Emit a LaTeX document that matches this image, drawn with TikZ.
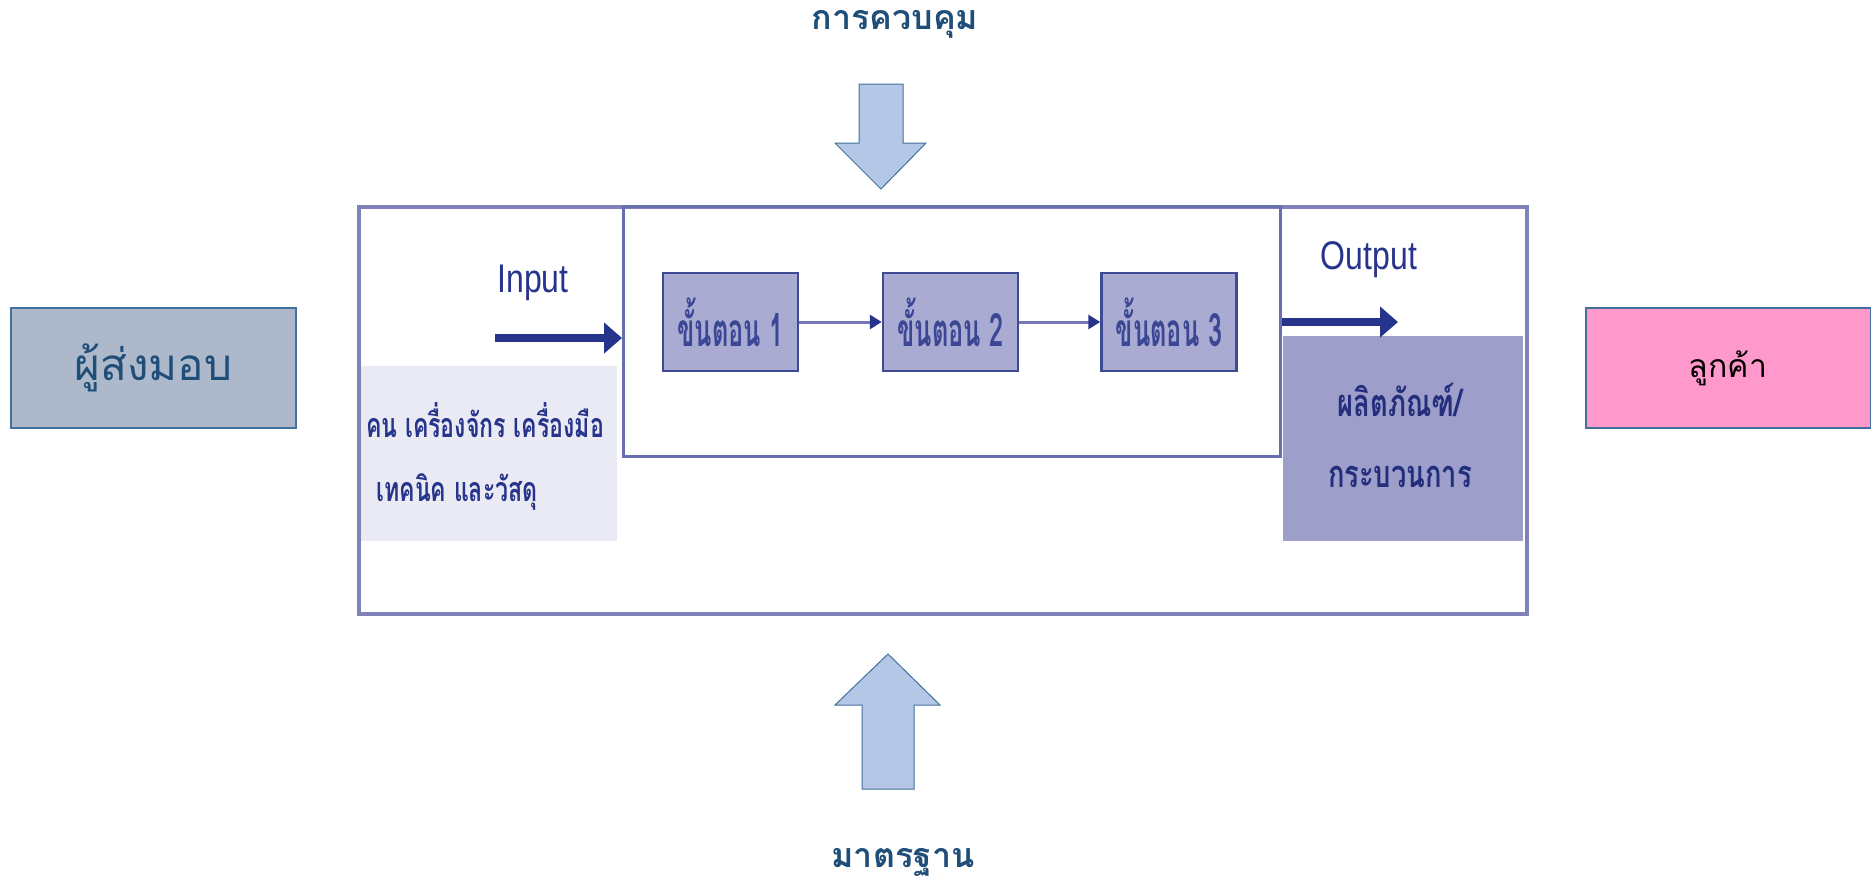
\documentclass[tikz,border=0pt]{standalone}
\usepackage{fontspec}
\setmainfont{Liberation Sans}
\newfontfamily\thai[Script=Thai]{Loma}
\usetikzlibrary{arrows.meta}

\definecolor{labelblue}{HTML}{1F4E79}
\definecolor{blockfill}{HTML}{B4C7E7}
\definecolor{blockdraw}{HTML}{41719C}
\definecolor{supplierfill}{HTML}{ADB9CA}
\definecolor{customerfill}{HTML}{FF99CC}
\definecolor{navy}{HTML}{27348B}
\definecolor{stepfill}{HTML}{A9ABD3}
\definecolor{stepdraw}{HTML}{3F4A94}
\definecolor{steptext}{HTML}{3B4794}
\definecolor{lightfill}{HTML}{EAEAF4}
\definecolor{darkfill}{HTML}{9D9ECA}
\definecolor{framecol}{HTML}{7F82B8}
\definecolor{linkcol}{HTML}{7478B5}

\tikzset{
  sidebox/.style={draw=blockdraw, line width=2pt, minimum width=285pt, minimum height=120pt, inner sep=0pt},
  stepbox/.style={draw=stepdraw, fill=stepfill, line width=2.5pt, minimum width=135pt, minimum height=98pt, inner sep=0pt},
  steplabel/.style={font=\thai\bfseries\fontsize{46}{50}\selectfont, text=steptext, xscale=0.55},
  blockarrow/.style={fill=blockfill, draw=blockdraw, line width=1pt, line join=miter},
  title/.style={font=\thai\bfseries\fontsize{34}{40}\selectfont, text=labelblue},
  inlabel/.style={font=\fontsize{40}{44}\selectfont, text=navy, xscale=0.8},
  restext/.style={font=\thai\bfseries\fontsize{34}{38}\selectfont, text=navy, xscale=0.68},
  prodtext/.style={font=\thai\bfseries\fontsize{38}{42}\selectfont, text=navy!90!black, xscale=0.72},
  link/.style={draw=linkcol, line width=3pt, -{Triangle[length=12pt,width=14pt,color=navy,fill=navy]}},
  flow/.style={draw=navy, line width=8pt, -{Triangle[length=18pt,width=30pt]}},
}

\begin{document}
\begin{tikzpicture}[x=1pt,y=-1pt]
\useasboundingbox (0,0) rectangle (1871,887);
\fill[white] (0,0) rectangle (1871,887);

% supplier and customer
\node[sidebox, fill=supplierfill, font=\thai\fontsize{44}{50}\selectfont, text=labelblue] (supplier) at (153.5,368) {ผู้ส่งมอบ};
\node[sidebox, fill=customerfill, font=\thai\fontsize{32}{38}\selectfont, text=black] (customer) at (1728,368) {ลูกค้า};

% control arrow from above, standards arrow from below
\node[title] (control) at (895,24) {การควบคุม};
\path[blockarrow] (859,84) -- (903,84) -- (903,143) -- (926,143) -- (881,189) -- (835,143) -- (859,143) -- cycle;
\node[title] (standard) at (903,862) {มาตรฐาน};
\path[blockarrow] (888,654) -- (940,705) -- (914,705) -- (914,789) -- (862,789) -- (862,705) -- (835,705) -- cycle;

% process panel: resource and product areas
\node[fill=lightfill, anchor=north west, minimum width=260pt, minimum height=175pt, inner sep=0pt] (resources) at (357,366) {};
\node[fill=darkfill, anchor=north west, minimum width=240pt, minimum height=205pt, inner sep=0pt] (product) at (1283,336) {};

% panel frames
\node[draw=framecol, line width=3.5pt, anchor=north west, minimum width=1168pt, minimum height=407pt, inner sep=0pt] (outer) at (357,205) {};
\node[draw=framecol!75!navy, line width=3pt, anchor=north west, minimum width=657pt, minimum height=250pt, inner sep=0pt] (inner) at (622,205) {};

% resource and product texts
\node[restext] (res1) at (485,420) {คน เครื่องจักร เครื่องมือ};
\node[restext] (res2) at (457,492) {เทคนิค และวัสดุ};
\node[prodtext] (prod1) at (1400,400) {ผลิตภัณฑ์/};
\node[prodtext] (prod2) at (1400,477) {กระบวนการ};

% steps
\node[stepbox] (s1) at (730.5,322) {};
\node[stepbox] (s2) at (950.5,322) {};
\node[stepbox] (s3) at (1169,322) {};
\node[steplabel] at (s1) {ขั้นตอน 1};
\node[steplabel] at (s2) {ขั้นตอน 2};
\node[steplabel] at (s3) {ขั้นตอน 3};
\draw[link] (s1) -- (s2);
\draw[link] (s2) -- (s3);

% input and output
\node[inlabel] (input) at (533,283) {Input};
\node[inlabel] (output) at (1369,260) {Output};
\coordinate (inA) at (495,338);
\coordinate (inB) at (inner.west |- inA);
\draw[flow] (inA) -- (inB);
\coordinate (outA) at (inner.east |- s3);
\coordinate (outB) at (1398,322);
\draw[flow] (outA) -- (outB);
\end{tikzpicture}
\end{document}
